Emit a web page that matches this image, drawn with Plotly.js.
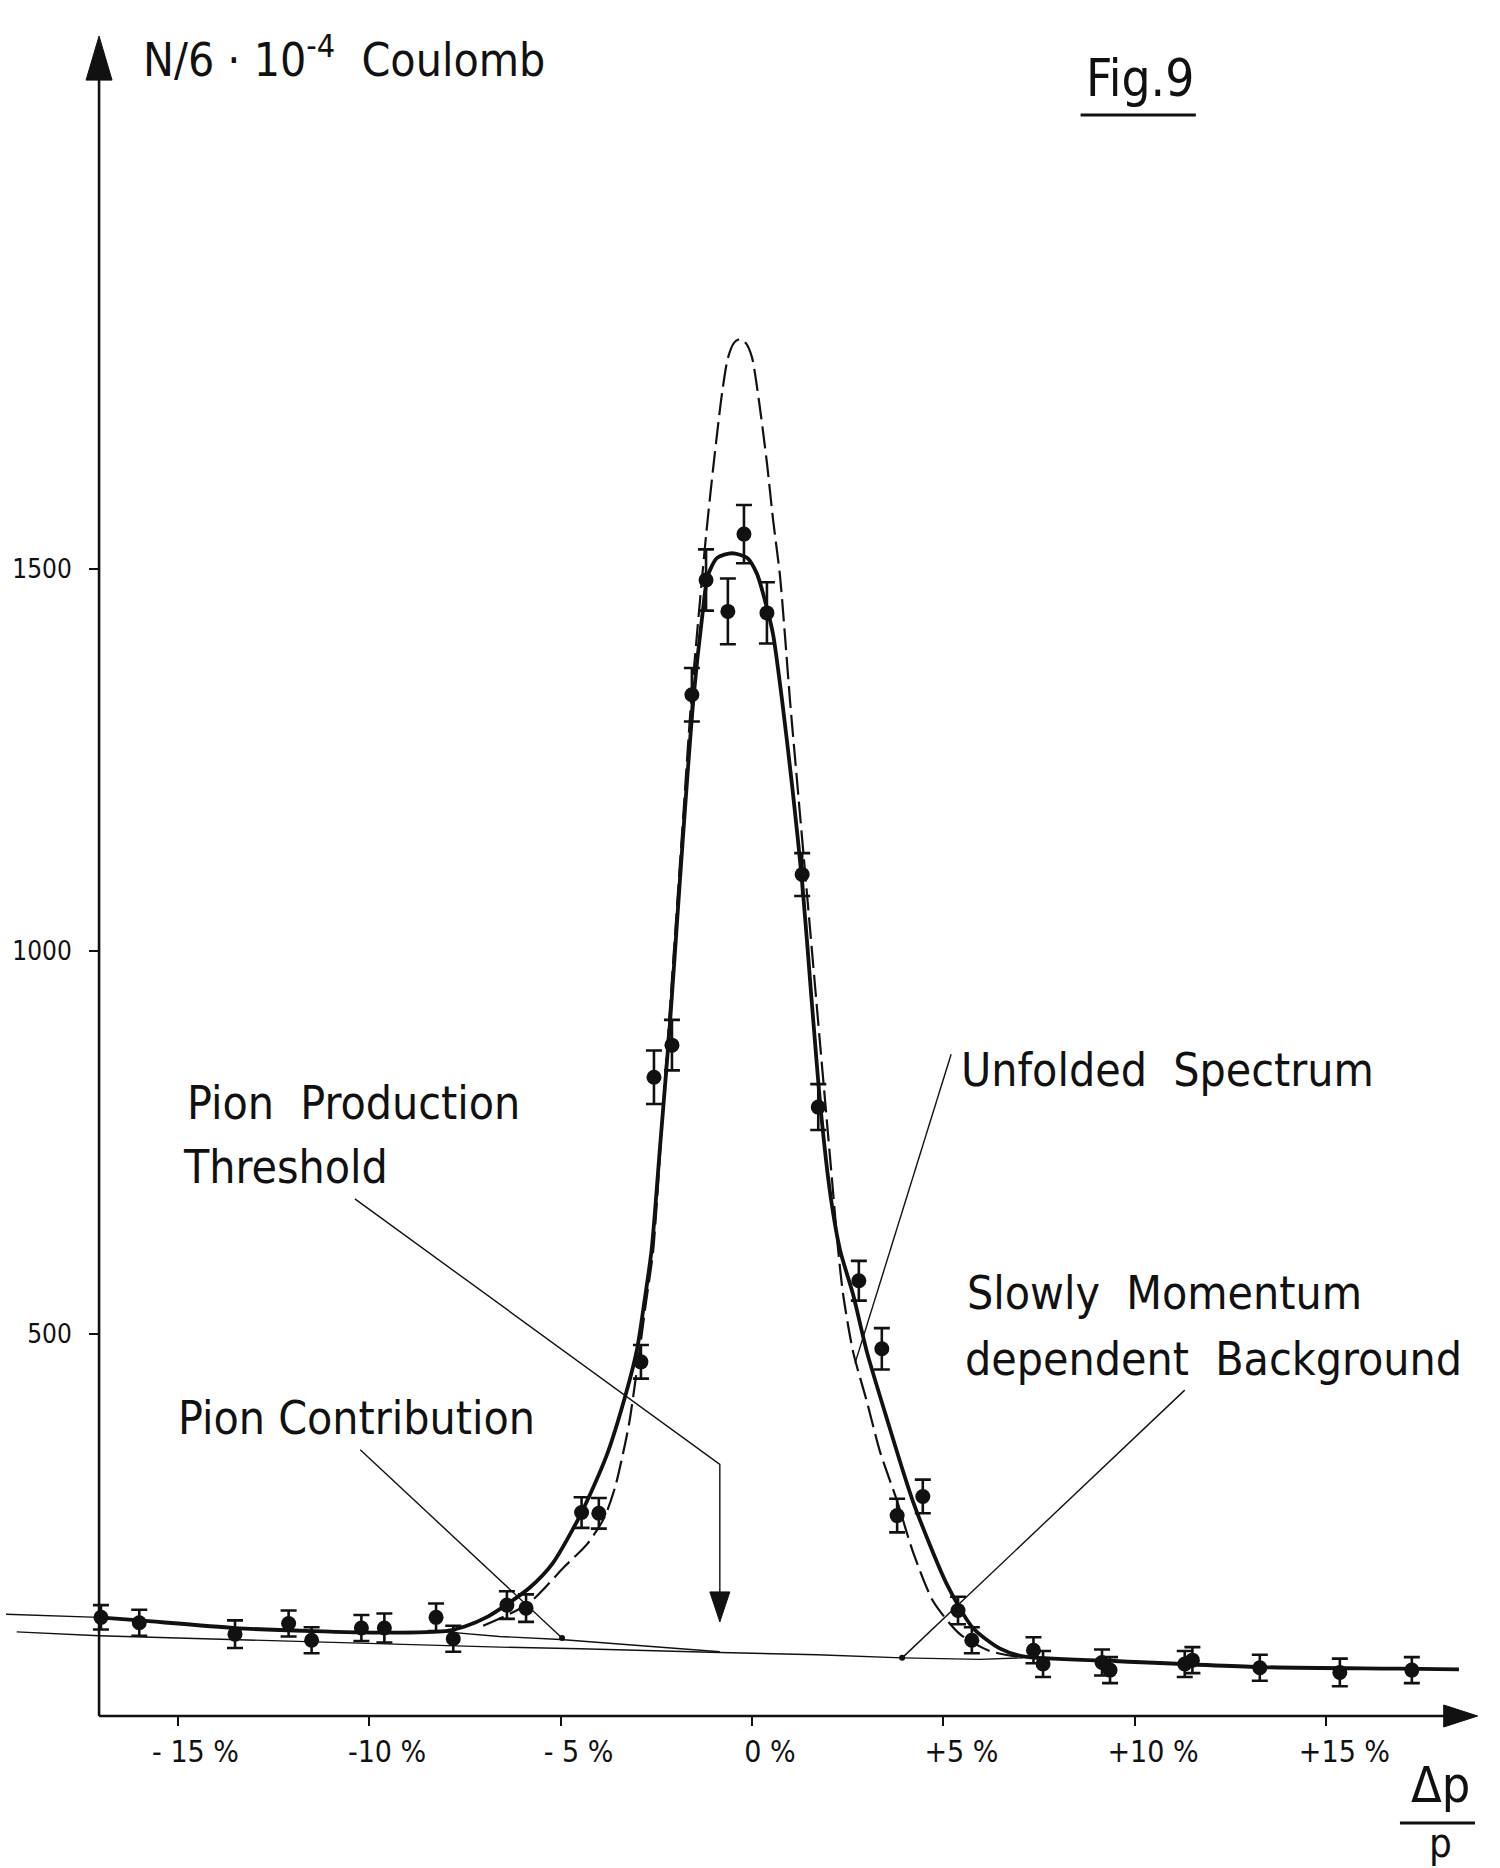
<!DOCTYPE html>
<html><head><meta charset="utf-8">
<script src="https://cdn.plot.ly/plotly-3.0.1.min.js"></script>
<style>html,body{margin:0;padding:0;background:#fff;}#chart{width:1500px;height:1868px;}</style>
</head><body><div id="chart"></div>
<script>
// ---- measured data points (Δp/p in %, counts) ----
const dataX = [-17.0,-16.0,-13.5,-12.1,-11.5,-10.2,-9.6,-8.25,-7.8,-6.4,-5.9,-4.45,-4.0,-2.9,-2.56,-2.09,-1.57,-1.2,-0.63,-0.21,0.39,1.31,1.73,2.79,3.39,3.79,4.46,5.38,5.74,7.35,7.6,9.14,9.35,11.3,11.5,13.26,15.35,17.23];
const dataY = [129,122,107,121,99,115,115,129,101,145,141,266,265,463,835,877,1335,1485,1444,1545,1442,1100,796,569,480,262,287,138,99,86,68,70,60,68,73,63,57,60];
const dataErr = [16,17,18,17,17,17,19,18,17,18,18,20,20,22,35,33,35,40,43,38,40,28,30,26,27,22,22,18,17,17,17,17,17,17,17,17,18,17];

// ---- fitted (folded) spectrum, solid ----
const fitX = [-17.05,-16.0,-13.5,-11.5,-9.5,-8.0,-7.5,-6.9,-6.4,-5.8,-5.2,-4.45,-3.8,-3.3,-3.0,-2.8,-2.62,-2.4,-2.15,-1.9,-1.7,-1.52,-1.31,-1.15,-0.91,-0.52,-0.13,0.13,0.34,0.55,0.78,1.05,1.31,1.55,1.8,2.05,2.3,2.64,3.0,3.52,4.2,5.09,5.77,6.48,7.08,9.43,13.26,16.9,18.46];
const fitY = [129,125,115,111,109,111,117,130,146,168,200,266,340,420,480,545,610,745,900,1080,1220,1335,1433,1491,1514,1520,1514,1493,1458,1414,1330,1215,1090,940,790,680,609,551,476,389,281,172,115,88,78,72,64,62,61];

// ---- unfolded spectrum, dashed ----
const dashX = [-7.02,-5.84,-4.9,-4.3,-3.85,-3.57,-3.36,-3.2,-2.93,-2.77,-2.58,-2.35,-2.05,-1.8,-1.59,-1.2,-0.97,-0.78,-0.63,-0.47,-0.31,-0.15,0.0,0.18,0.39,0.55,0.73,0.86,0.99,1.2,1.5,1.8,2.1,2.25,2.38,2.64,3.0,3.34,3.79,4.2,4.73,5.43,6.21,7.0];
const dashY = [118,147,195,225,260,300,345,385,480,540,609,775,992,1173,1325,1543,1651,1730,1775,1795,1800,1794,1776,1720,1638,1564,1491,1413,1329,1209,1038,866,695,609,551,476,411,346,281,215,150,107,85,77];

// ---- slowly momentum dependent background, thin ----
const bgX = [-19.2,-17.05,-6.58,-4.49,-0.84,1.7,3.92,5.95,7.08];
const bgY = [110,105,90,88,83,80,76,74,76];

// ---- pion contribution line, thin ----
const pionX = [-19.5,-17.05,-16.0,-13.5,-11.5,-9.5,-8.0,-6.6,-5.0,-0.84];
const pionY = [133,129,125,115,111,109,110,104,100,84];

// ---- pointer end dots ----
const dotX = [-4.96,3.92];
const dotY = [102,76];

// ---- ticks ----
const xTickVals = [-15,-10,-5,0,5,10,15];
const xTickText = ['- 15 %','-10 %','- 5 %','0 %','+5 %','+10 %','+15 %'];
const yTickVals = [500,1000,1500];
const yTickText = ['500','1000','1500'];

const FONT = '"DejaVu Sans Condensed","Liberation Sans Narrow","Roboto Condensed","Liberation Sans",sans-serif';
const INK = '#111';
const Y0 = -39.2, Y1 = 2204, X0 = -19.48, X1 = 19.01;
const AXX = -17.05; // position of the drawn y axis (in %)

const traces = [
  {x: bgX, y: bgY, mode: 'lines', line: {color: INK, width: 1.4}, hoverinfo: 'skip'},
  {x: pionX, y: pionY, mode: 'lines', line: {color: INK, width: 1.4}, hoverinfo: 'skip'},
  {x: dashX, y: dashY, mode: 'lines', line: {color: INK, width: 2.2, dash: '22px,7px', shape: 'spline', smoothing: 0.7}, hoverinfo: 'skip'},
  {x: fitX, y: fitY, mode: 'lines', line: {color: INK, width: 3.8, shape: 'spline', smoothing: 0.7}, hoverinfo: 'skip'},
  {x: dataX, y: dataY, mode: 'markers', marker: {color: INK, size: 15},
   error_y: {type: 'data', array: dataErr, visible: true, color: INK, thickness: 2.6, width: 8}},
  {x: dotX, y: dotY, mode: 'markers', marker: {color: INK, size: 6}}
];

const txt = (text, x, y, size, xanchor) => ({text, x, y, xref: 'x', yref: 'y', showarrow: false,
  xanchor: xanchor || 'left', yanchor: 'middle', font: {family: FONT, size, color: INK}});
const ptxt = (text, x, y, size) => ({text, x, y, xref: 'paper', yref: 'paper', showarrow: false,
  xanchor: 'center', yanchor: 'middle', font: {family: FONT, size, color: INK}});

const annotations = [
  txt('N/6 · 10<sup>-4</sup>  Coulomb', -15.95, 2169, 46),
  txt('Fig.9', 8.67, 2140, 51),
  txt('Pion\u00a0 Production', -14.80, 801, 46),
  txt('Threshold', -14.91, 718, 46),
  txt('Unfolded\u00a0 Spectrum', 5.40, 844, 46),
  txt('Slowly\u00a0 Momentum', 5.56, 553, 46),
  txt('dependent\u00a0 Background', 5.51, 467, 46),
  txt('Pion Contribution', -15.04, 390, 46),
  ptxt('Δp', 0.9729, -0.0227, 50),
  ptxt('p', 0.9735, -0.0565, 40)
];

const L = (x0, y0, x1, y1, w) => ({type: 'line', xref: 'x', yref: 'y', x0, y0, x1, y1, line: {color: INK, width: w}});
const head = (xa, ya, path) => ({type: 'path', xref: 'x', yref: 'y', xsizemode: 'pixel', ysizemode: 'pixel',
  xanchor: xa, yanchor: ya, path, fillcolor: INK, line: {color: INK, width: 1}});

const shapes = [
  // axes
  L(AXX, 0, AXX, 2139, 2.6),
  L(AXX, 0, 18.2, 0, 2.6),
  head(AXX, 2196, 'M0,0 L-13,-44 L13,-44 Z'),
  head(18.95, 0, 'M0,0 L-34,11 L-34,-11 Z'),
  // Fig.9 underline
  L(8.58, 2093, 11.59, 2093, 3),
  // pointers
  {type: 'path', xref: 'x', yref: 'y', path: 'M -10.37,676 L -0.84,329 L -0.84,158', line: {color: INK, width: 1.4}},
  head(-0.84, 123, 'M0,0 L-10,30 L10,30 Z'),
  L(5.20, 865, 2.69, 461, 1.4),
  L(11.3, 426, 3.92, 76, 1.4),
  L(-10.23, 348, -4.96, 102, 1.4),
  // fraction bar of Δp/p
  {type: 'line', xref: 'paper', yref: 'paper', x0: 0.9457, x1: 0.9966, y0: -0.0449, y1: -0.0449, line: {color: INK, width: 3}}
];

const layout = {
  width: 1500, height: 1868,
  margin: {l: 6, r: 20, t: 30, b: 122},
  paper_bgcolor: '#fff', plot_bgcolor: '#fff',
  showlegend: false,
  font: {family: FONT, color: INK},
  xaxis: {range: [X0, X1], anchor: 'free', position: (0 - Y0) / (Y1 - Y0),
    showgrid: false, zeroline: false, showline: false,
    tickvals: xTickVals, ticktext: xTickText, ticks: 'outside', ticklen: 9, tickwidth: 2, tickcolor: INK,
    ticklabelshift: 18, ticklabelstandoff: 0, tickfont: {family: FONT, size: 30, color: INK}},
  yaxis: {range: [Y0, Y1], anchor: 'free', position: (AXX - X0) / (X1 - X0),
    showgrid: false, zeroline: false, showline: false,
    tickvals: yTickVals, ticktext: yTickText, ticks: 'outside', ticklen: 10, tickwidth: 2, tickcolor: INK,
    ticklabelstandoff: 12, tickfont: {family: FONT, size: 26, color: INK}},
  annotations, shapes
};

Plotly.newPlot('chart', traces, layout, {staticPlot: true});
</script>
</body></html>
